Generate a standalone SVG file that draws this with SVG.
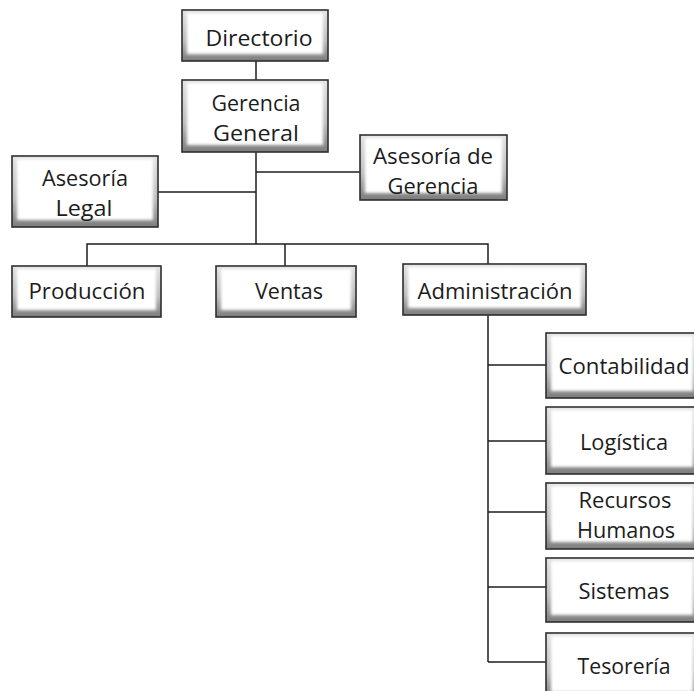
<svg xmlns="http://www.w3.org/2000/svg" width="694" height="691" viewBox="0 0 694 691">
  <defs>
    <linearGradient id="edge" x1="0" y1="0" x2="0" y2="1">
      <stop offset="0" stop-color="#e4e4e4"/>
      <stop offset="0.6" stop-color="#bdbdbd"/>
      <stop offset="1" stop-color="#7c7c7c"/>
    </linearGradient>
    <filter id="soft" x="-10%" y="-20%" width="120%" height="140%">
      <feGaussianBlur stdDeviation="1.8"/>
    </filter>
  </defs>
  <style>
    .frame { fill: url(#edge); stroke: #2e2e2e; stroke-width: 1.6; }
    .face { fill: #ffffff; filter: url(#soft); }
    .label { font-family: "Open Sans", "Liberation Sans", sans-serif; font-size: 21px; fill: #1c1c1c; text-anchor: middle; }
    .wire { stroke: #1e1e1e; stroke-width: 1.5; fill: none; }
  </style>

  <rect width="694" height="691" fill="#ffffff"/>

  <!-- connectors -->
  <g id="connectors">
    <path class="wire" d="M256 61 V80"/>
    <path class="wire" d="M256 152 V244"/>
    <path class="wire" d="M158 192 H256"/>
    <path class="wire" d="M256 172 H360"/>
    <path class="wire" d="M87 266 V244 H488 V264"/>
    <path class="wire" d="M285 244 V266"/>
    <path class="wire" d="M488 315 V662"/>
    <path class="wire" d="M488 365 H546"/>
    <path class="wire" d="M488 441 H546"/>
    <path class="wire" d="M488 512 H546"/>
    <path class="wire" d="M488 587 H546"/>
    <path class="wire" d="M488 662 H546"/>
  </g>

  <!-- nodes -->
  <g id="directorio">
    <rect class="frame" x="182" y="10" width="146" height="51"/>
    <rect class="face" x="187" y="13" width="136" height="41"/>
    <text class="label" x="259" y="46" textLength="107" lengthAdjust="spacingAndGlyphs">Directorio</text>
  </g>

  <g id="gerencia-general">
    <rect class="frame" x="182" y="80" width="146" height="72"/>
    <rect class="face" x="187" y="83" width="136" height="62"/>
    <text class="label" x="256" y="111" textLength="89" lengthAdjust="spacingAndGlyphs">Gerencia</text>
    <text class="label" x="256" y="141" textLength="86" lengthAdjust="spacingAndGlyphs">General</text>
  </g>

  <g id="asesoria-legal">
    <rect class="frame" x="12" y="156" width="146" height="71"/>
    <rect class="face" x="17" y="159" width="136" height="61"/>
    <text class="label" x="85" y="186" textLength="86" lengthAdjust="spacingAndGlyphs">Asesoría</text>
    <text class="label" x="84" y="216" textLength="57" lengthAdjust="spacingAndGlyphs">Legal</text>
  </g>

  <g id="asesoria-gerencia">
    <rect class="frame" x="360" y="135" width="147" height="65"/>
    <rect class="face" x="365" y="138" width="137" height="55"/>
    <text class="label" x="433" y="164" textLength="120" lengthAdjust="spacingAndGlyphs">Asesoría de</text>
    <text class="label" x="433" y="194" textLength="91" lengthAdjust="spacingAndGlyphs">Gerencia</text>
  </g>

  <g id="produccion">
    <rect class="frame" x="12" y="266" width="149" height="51"/>
    <rect class="face" x="17" y="269" width="139" height="41"/>
    <text class="label" x="87" y="299" textLength="117" lengthAdjust="spacingAndGlyphs">Producción</text>
  </g>

  <g id="ventas">
    <rect class="frame" x="216" y="266" width="140" height="51"/>
    <rect class="face" x="221" y="269" width="130" height="41"/>
    <text class="label" x="289" y="299" textLength="68" lengthAdjust="spacingAndGlyphs">Ventas</text>
  </g>

  <g id="administracion">
    <rect class="frame" x="403" y="264" width="183" height="51"/>
    <rect class="face" x="408" y="267" width="173" height="41"/>
    <text class="label" x="495" y="299" textLength="155" lengthAdjust="spacingAndGlyphs">Administración</text>
  </g>

  <g id="contabilidad">
    <rect class="frame" x="546" y="333" width="152" height="65"/>
    <rect class="face" x="551" y="336" width="142" height="55"/>
    <text class="label" x="624" y="374" textLength="131" lengthAdjust="spacingAndGlyphs">Contabilidad</text>
  </g>

  <g id="logistica">
    <rect class="frame" x="546" y="407" width="152" height="67"/>
    <rect class="face" x="551" y="410" width="142" height="57"/>
    <text class="label" x="624" y="450" textLength="88" lengthAdjust="spacingAndGlyphs">Logística</text>
  </g>

  <g id="recursos-humanos">
    <rect class="frame" x="546" y="483" width="152" height="66"/>
    <rect class="face" x="551" y="486" width="142" height="56"/>
    <text class="label" x="625" y="508" textLength="93" lengthAdjust="spacingAndGlyphs">Recursos</text>
    <text class="label" x="626" y="538" textLength="98" lengthAdjust="spacingAndGlyphs">Humanos</text>
  </g>

  <g id="sistemas">
    <rect class="frame" x="546" y="558" width="152" height="64"/>
    <rect class="face" x="551" y="561" width="142" height="54"/>
    <text class="label" x="624" y="599" textLength="91" lengthAdjust="spacingAndGlyphs">Sistemas</text>
  </g>

  <g id="tesoreria">
    <rect class="frame" x="546" y="633" width="152" height="66"/>
    <rect class="face" x="551" y="636" width="142" height="56"/>
    <text class="label" x="624" y="674" textLength="93" lengthAdjust="spacingAndGlyphs">Tesorería</text>
  </g>
</svg>
